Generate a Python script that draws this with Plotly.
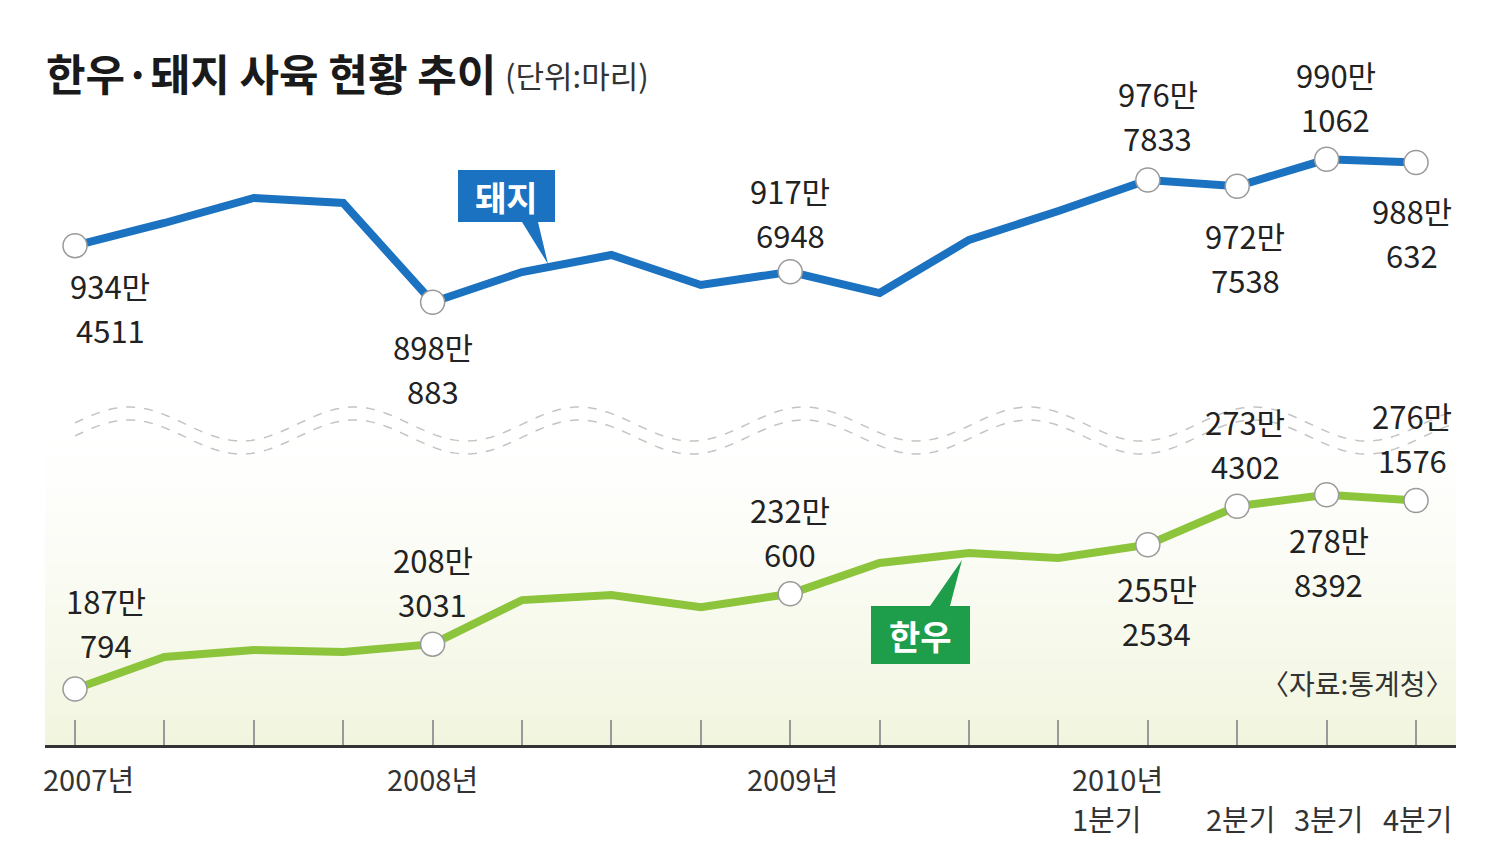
import math
import plotly.graph_objects as go

# ---------------- data ----------------
quarters = list(range(16))  # 2007 Q1 .. 2010 Q4
pig = [9344511, 9491000, 9652000, 9620000, 8980883, 9175000, 9285000, 9092000,
       9176948, 9040000, 9382000, 9568000, 9767833, 9727538, 9901062, 9880632]
hanwoo = [1870794, 2022000, 2055000, 2046000, 2083031, 2291000, 2315000, 2258000,
          2320600, 2466000, 2513000, 2490000, 2552534, 2734302, 2788392, 2761576]
labeled_idx = [0, 4, 8, 12, 13, 14, 15]
tick_idx = [0, 4, 8, 12, 12, 13, 14, 15]
tick_labels = ["2007년", "2008년", "2009년", "2010년", "1분기", "2분기", "3분기", "4분기"]
title_text = "한우·돼지 사육 현황 추이"
unit_text = "(단위:마리)"
source_text = "〈자료:통계청〉"
pig_name = "돼지"
hanwoo_name = "한우"

# ---------------- style ----------------
OFF = 8                      # default body margin of the html page
W, H = 1498 - OFF, 855 - OFF
ML, MR, MT, MB = 45 - OFF, 42, 40 - OFF, 110
PW, PH = 1456 - 45, 745 - 40
FONT = "Noto Sans CJK KR"
BLUE = "#1a72c0"
GREEN_LINE = "#8cc43c"
GREEN_BOX = "#1e9e4a"
TXT = "#222222"


# page pixel -> paper
def PX(X):
    return (X - 45) / PW


def PY(Y):
    return (745 - Y) / PH


fig = go.Figure()

# gradient background in lower panel
shapes = []
y_top, y_bot, n = 430, 745, 45
for k in range(n):
    t = ((k + 0.5) / n) ** 1.3
    r = round(255 - t * (255 - 241))
    g = round(255 - t * (255 - 245))
    b = round(255 - t * (255 - 222))
    y0 = y_top + k * (y_bot - y_top) / n
    y1 = y_top + (k + 1) * (y_bot - y_top) / n + 0.5
    shapes.append(dict(type="rect", xref="paper", yref="paper",
                       x0=0, x1=1, y0=PY(y1), y1=PY(y0),
                       fillcolor=f"rgb({r},{g},{b})", line=dict(width=0), layer="below"))

# wavy break lines
for c in (424, 437):
    pts = []
    X = 75
    while X <= 1458:
        Y = c - 17 * math.cos(2 * math.pi * (X - 129) / 225)
        pts.append(f"{PX(X):.5f},{PY(Y):.5f}")
        X += 4
    shapes.append(dict(type="path", xref="paper", yref="paper",
                       path="M" + " L".join(pts),
                       line=dict(color="#c4c4c4", width=1.5, dash="dash")))


# callout boxes with pointers
def box_path(x0, x1, y0, y1, base, tip, top_side):
    bx0, bx1 = base
    tx, ty = tip
    if top_side:
        p = [(x0, y0), (bx0, y0), (tx, ty), (bx1, y0), (x1, y0), (x1, y1), (x0, y1)]
    else:
        p = [(x0, y0), (x1, y0), (x1, y1), (bx1, y1), (tx, ty), (bx0, y1), (x0, y1)]
    return "M" + " L".join(f"{PX(a):.5f},{PY(b):.5f}" for a, b in p) + " Z"


shapes.append(dict(type="path", xref="paper", yref="paper",
                   path=box_path(458, 555, 170, 222, (522, 538), (548, 264), False),
                   fillcolor=BLUE, line=dict(width=0)))
shapes.append(dict(type="path", xref="paper", yref="paper",
                   path=box_path(871, 970, 606, 664, (930, 950), (962, 560), True),
                   fillcolor=GREEN_BOX, line=dict(width=0)))

# ---------------- traces ----------------
marker = dict(size=24, color="white", line=dict(color="#9a9a9a", width=1.5))
fig.add_trace(go.Scatter(x=quarters, y=pig, mode="lines", yaxis="y2",
                         line=dict(color=BLUE, width=8), hoverinfo="skip", cliponaxis=False))
fig.add_trace(go.Scatter(x=[quarters[i] for i in labeled_idx], y=[pig[i] for i in labeled_idx],
                         mode="markers", yaxis="y2", marker=marker, cliponaxis=False))
fig.add_trace(go.Scatter(x=quarters, y=hanwoo, mode="lines", yaxis="y",
                         line=dict(color=GREEN_LINE, width=8), hoverinfo="skip", cliponaxis=False))
fig.add_trace(go.Scatter(x=[quarters[i] for i in labeled_idx], y=[hanwoo[i] for i in labeled_idx],
                         mode="markers", yaxis="y", marker=marker, cliponaxis=False))

# ---------------- annotations ----------------
ann = []
LS = 31       # label font size
GAP = 22      # half the distance between the two label lines
pig_off = [(35, -62), (0, -66), (0, 59), (10, 65), (8, -71), (9, 63), (-4, -70)]
han_off = [(31, 67), (0, 63), (0, 62), (9, -66), (8, 63), (2, -67), (-4, 63)]


def add_label(series, yref, i, dx, dy):
    v = series[i]
    for txt, sh in ((f"{v // 10000}만", GAP), (f"{v % 10000}", -GAP)):
        ann.append(dict(x=quarters[i], y=v, xref="x", yref=yref, text=txt,
                        showarrow=False, xshift=dx, yshift=dy + sh,
                        font=dict(family=FONT, size=LS, color=TXT)))


for i, (dx, dy) in zip(labeled_idx, pig_off):
    add_label(pig, "y2", i, dx, dy)
for i, (dx, dy) in zip(labeled_idx, han_off):
    add_label(hanwoo, "y", i, dx, dy)

tick_style = [(13, -778, "center"), (0, -778, "center"), (2, -778, "center"),
              (-78, -778, "left"), (-78, -818, "left"),
              (3, -818, "center"), (2, -818, "center"), (1, -818, "center")]
for i, t, (dx, yc, xa) in zip(tick_idx, tick_labels, tick_style):
    ann.append(dict(x=quarters[i], y=PY(-yc), xref="x", yref="paper", text=t, showarrow=False,
                    xanchor=xa, yanchor="middle", xshift=dx,
                    font=dict(family=FONT, size=29, color="#333333")))

ann.append(dict(x=PX(44), y=PY(72), xref="paper", yref="paper", text=f"<b>{title_text}</b>",
                showarrow=False, xanchor="left", yanchor="middle",
                font=dict(family=FONT, size=43, color="#1a1a1a")))
ann.append(dict(x=PX(503), y=PY(75), xref="paper", yref="paper", text=unit_text,
                showarrow=False, xanchor="left", yanchor="middle",
                font=dict(family=FONT, size=31, color="#333333")))
ann.append(dict(x=PX(1456), y=PY(683), xref="paper", yref="paper", text=source_text,
                showarrow=False, xanchor="right", yanchor="middle",
                font=dict(family=FONT, size=28, color="#333333")))
ann.append(dict(x=PX(506), y=PY(196), xref="paper", yref="paper", text=f"<b>{pig_name}</b>",
                showarrow=False, xanchor="center", yanchor="middle",
                font=dict(family=FONT, size=34, color="white")))
ann.append(dict(x=PX(920), y=PY(635), xref="paper", yref="paper", text=f"<b>{hanwoo_name}</b>",
                showarrow=False, xanchor="center", yanchor="middle",
                font=dict(family=FONT, size=34, color="white")))

fig.update_layout(
    width=W, height=H,
    margin=dict(l=ML, r=MR, t=MT, b=MB),
    paper_bgcolor="white", plot_bgcolor="white",
    showlegend=False,
    shapes=shapes, annotations=ann,
    xaxis=dict(range=[-0.3356, 15.447], tickvals=quarters, ticktext=[""] * 16,
               ticks="inside", ticklen=25, tickwidth=1.5, tickcolor="#9a9a9a",
               showline=True, linecolor="#333333", linewidth=3,
               showgrid=False, zeroline=False, fixedrange=True),
    yaxis=dict(range=[1606700, 4936100], visible=False, fixedrange=True),
    yaxis2=dict(range=[6129700, 10669300], overlaying="y", visible=False, fixedrange=True),
)

fig.write_html("out.html")
